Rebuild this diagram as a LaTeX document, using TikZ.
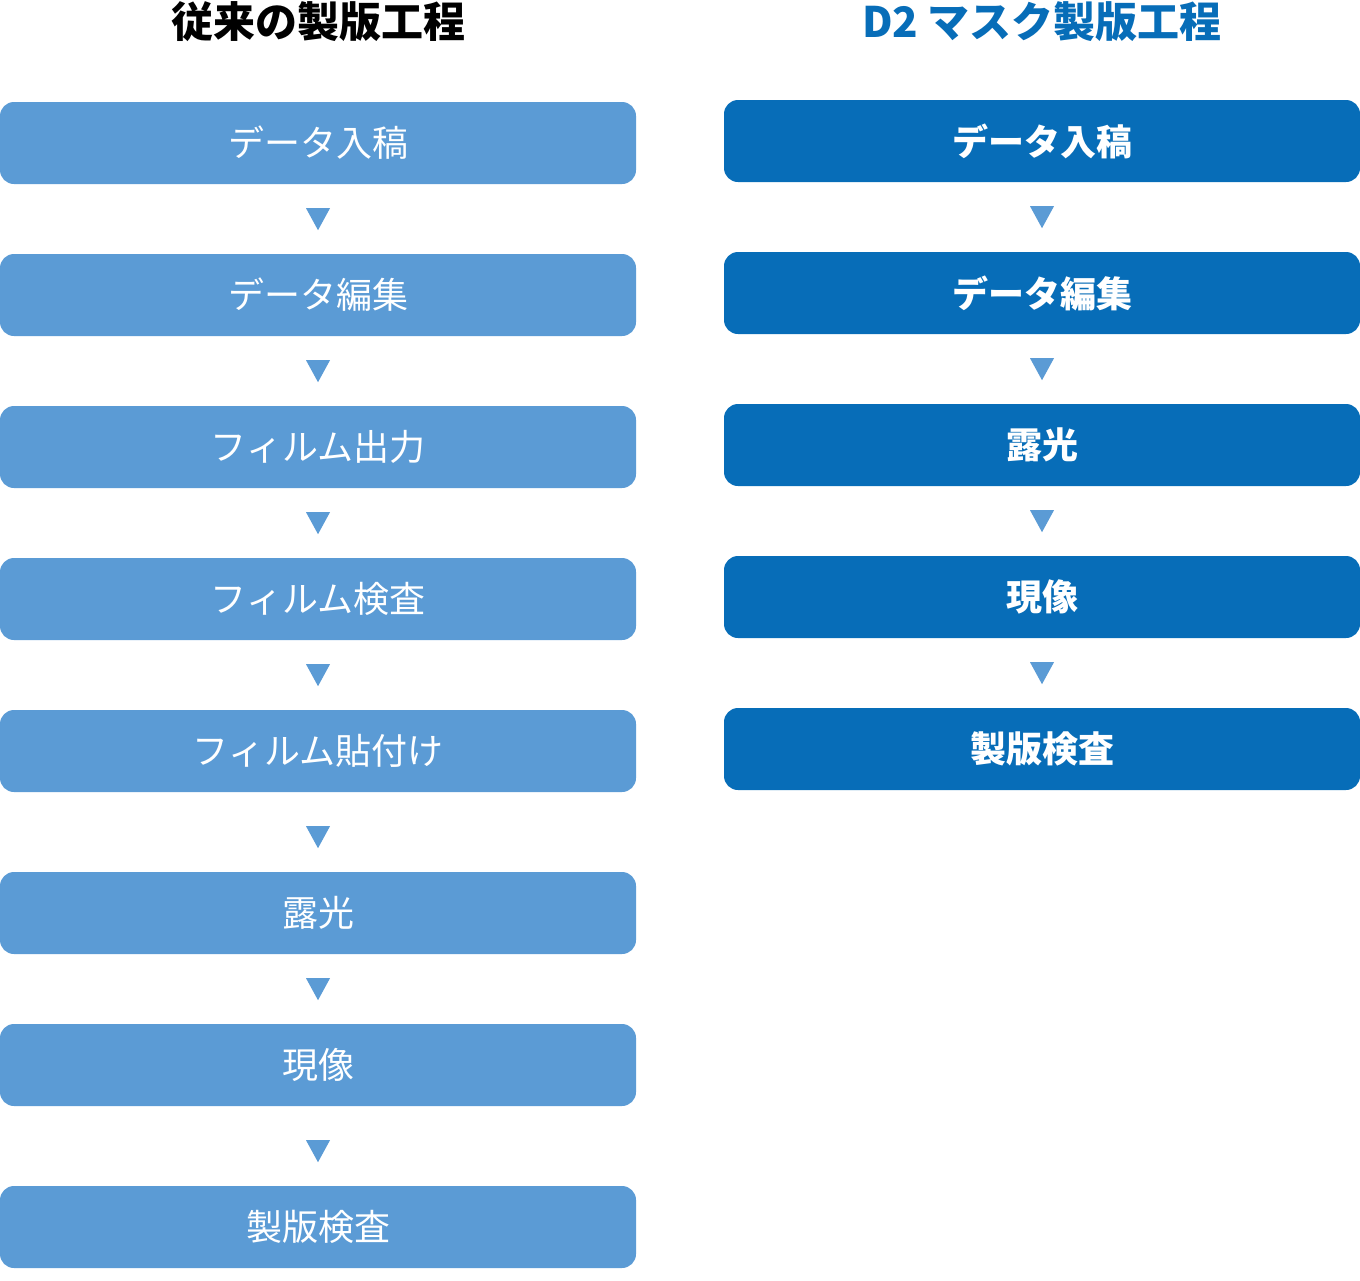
\documentclass[tikz,border=0pt]{standalone}
\usepackage{fontspec}
\setmainfont{Noto Sans CJK JP}
\usetikzlibrary{calc,positioning}
\definecolor{oldblue}{HTML}{5B9BD5}
\definecolor{newblue}{HTML}{076DB8}
\definecolor{arrowblue}{HTML}{5B9BD5}
\tikzset{
  stepold/.style={rectangle,rounded corners=14pt,fill=oldblue,text=white,
    minimum width=636pt,minimum height=82pt,inner sep=0pt,
    font=\fontsize{36}{40}\selectfont},
  stepnew/.style={stepold,fill=newblue,font=\fontsize{36}{40}\selectfont\bfseries},
  headline/.style={font=\fontsize{42}{46}\selectfont\bfseries,inner sep=0pt}
}
\newcommand{\downtri}[2]{%
  \fill[arrowblue] ($(#1.south)+(0,#2)$) ++(-12,-11) -- ++(24,0) -- ++(-12,22) -- cycle;
}

\begin{document}
\begin{tikzpicture}[x=1pt,y=-1pt]
    \useasboundingbox (0,0) rectangle (1360,1280);

    \node[headline] (oldtitle) at (318,22) {従来の製版工程};
    \node[headline,text=newblue] (newtitle) at (1042,22) {D2 マスク製版工程};

    % left column
    \node[stepold] (o1) at (318,143) {データ入稿};
    \node[stepold] (o2) at (318,295) {データ編集};
    \node[stepold] (o3) at (318,447) {フィルム出力};
    \node[stepold] (o4) at (318,599) {フィルム検査};
    \node[stepold] (o5) at (318,751) {フィルム貼付け};
    \node[stepold] (o6) at (318,913) {露光};
    \node[stepold] (o7) at (318,1065) {現像};
    \node[stepold] (o8) at (318,1227) {製版検査};

    % right column
    \node[stepnew] (n1) at (1042,141) {データ入稿};
    \node[stepnew] (n2) at (1042,293) {データ編集};
    \node[stepnew] (n3) at (1042,445) {露光};
    \node[stepnew] (n4) at (1042,597) {現像};
    \node[stepnew] (n5) at (1042,749) {製版検査};

    \downtri{o1}{35}
    \downtri{o2}{35}
    \downtri{o3}{35}
    \downtri{o4}{35}
    \downtri{o5}{45}
    \downtri{o6}{35}
    \downtri{o7}{45}

    \downtri{n1}{35}
    \downtri{n2}{35}
    \downtri{n3}{35}
    \downtri{n4}{35}
\end{tikzpicture}
\end{document}
